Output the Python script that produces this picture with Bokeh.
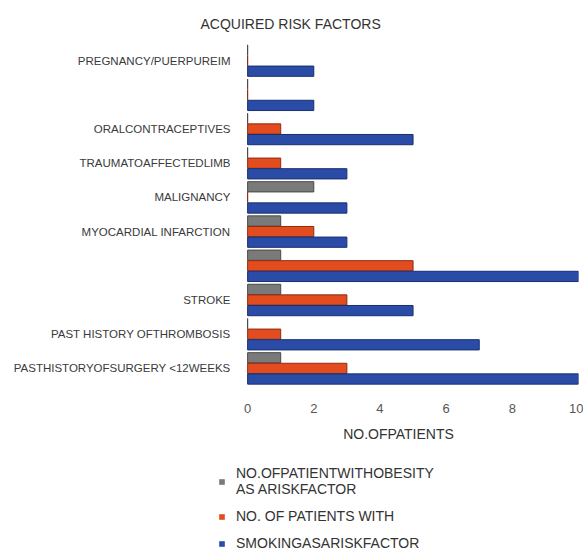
from bokeh.plotting import figure
from bokeh.models import Range1d, FixedTicker, Legend, LegendItem, ColumnDataSource
from bokeh.layouts import column
from bokeh.embed import file_html
from bokeh.resources import INLINE

# Categories, top to bottom (two groups carry no label in the reference)
categories = ["PREGNANCY/PUERPUREIM", "", "ORALCONTRACEPTIVES", "TRAUMATOAFFECTEDLIMB",
              "MALIGNANCY", "MYOCARDIAL INFARCTION", "", "STROKE",
              "PAST HISTORY OFTHROMBOSIS", "PASTHISTORYOFSURGERY <12WEEKS"]
obesity = [0, 0, 0, 0, 2, 1, 1, 1, 0, 1]
patients_with = [0, 0, 1, 1, 0, 2, 5, 3, 1, 3]
smoking = [2, 2, 5, 3, 3, 3, 10, 5, 7, 10]
series_labels = ["NO.OFPATIENTWITHOBESITY\nAS ARISKFACTOR", "NO. OF PATIENTS WITH",
                 "SMOKINGASARISKFACTOR"]
x_ticks = [0, 2, 4, 6, 8, 10]

n = len(categories)
centers = [n - i - 0.5 for i in range(n)]

FONT = "'Liberation Sans', Arial, sans-serif"

p = figure(width=583, height=450, output_backend="svg", toolbar_location=None,
           x_range=Range1d(-0.88, 10), y_range=Range1d(0, n),
           min_border_left=218, min_border_right=5, min_border_top=43, min_border_bottom=65)
p.outline_line_color = None
p.xgrid.visible = False
p.ygrid.visible = False

colors = ["#7a7a7a", "#e24c1f", "#2b4ca6"]
edges = ["#4a4a4a", "#8e2c10", "#182f70"]
offsets = [0.31, 0.0, -0.31]
sources = []
for vals, c, e, off in zip([obesity, patients_with, smoking], colors, edges, offsets):
    src = ColumnDataSource(dict(y=[cy + off for cy in centers], right=vals))
    sources.append(src)
    p.hbar(y="y", right="right", left=0, height=0.3, source=src,
           fill_color=c, line_color=e, line_width=1)

# x axis
p.xaxis.ticker = FixedTicker(ticks=x_ticks)
p.xaxis.axis_line_color = None
p.xaxis.major_tick_line_color = None
p.xaxis.minor_tick_line_color = None
p.xaxis.major_label_standoff = 12
p.xaxis.major_label_text_font = FONT
p.xaxis.major_label_text_font_size = "13px"
p.xaxis.major_label_text_color = "#555555"
p.xaxis.axis_label = "NO.OFPATIENTS"
p.xaxis.axis_label_text_font = FONT
p.xaxis.axis_label_text_font_style = "normal"
p.xaxis.axis_label_text_font_size = "14px"
p.xaxis.axis_label_text_color = "#333333"
p.xaxis.axis_label_standoff = 10

# y axis
p.yaxis.ticker = FixedTicker(ticks=centers)
p.yaxis.major_label_overrides = {cy: lab for cy, lab in zip(centers, categories)}
p.yaxis.axis_line_color = None
p.yaxis.major_tick_line_color = None
p.yaxis.minor_tick_line_color = None
p.yaxis.major_label_standoff = -18
p.yaxis.major_label_text_font = FONT
p.yaxis.major_label_text_font_size = "11.5px"
p.yaxis.major_label_text_color = "#3a3a3a"

# title
p.title.text = "ACQUIRED RISK FACTORS"
p.title.align = "left"
p.title.offset = -18
p.title.standoff = 24
p.title.text_font = FONT
p.title.text_font_size = "14px"
p.title.text_font_style = "normal"
p.title.text_color = "#333333"

# legend panel (its ranges lie away from the data, so only the legend shows)
lg = figure(width=583, height=105, output_backend="svg", toolbar_location=None,
            x_range=Range1d(100, 101), y_range=Range1d(100, 101),
            x_axis_type=None, y_axis_type=None,
            min_border_left=218, min_border_right=5, min_border_top=0, min_border_bottom=0)
lg.outline_line_color = None
lg.xgrid.visible = False
lg.ygrid.visible = False
items = []
for lab, src, c in zip(series_labels, sources, colors):
    r = lg.hbar(y="y", right="right", left=0, height=0.3, source=src,
                fill_color=c, line_color=None)
    items.append(LegendItem(label=lab, renderers=[r]))
legend = Legend(items=items, location=(0, 4), orientation="vertical",
                border_line_color=None, background_fill_alpha=0,
                padding=0, margin=0, spacing=11,
                glyph_width=7, glyph_height=7, label_standoff=11,
                label_text_font=FONT, label_text_font_size="14px",
                label_text_color="#333333")
lg.add_layout(legend, "center")

open("out.html", "w").write(file_html(column(p, lg, spacing=0), INLINE))
